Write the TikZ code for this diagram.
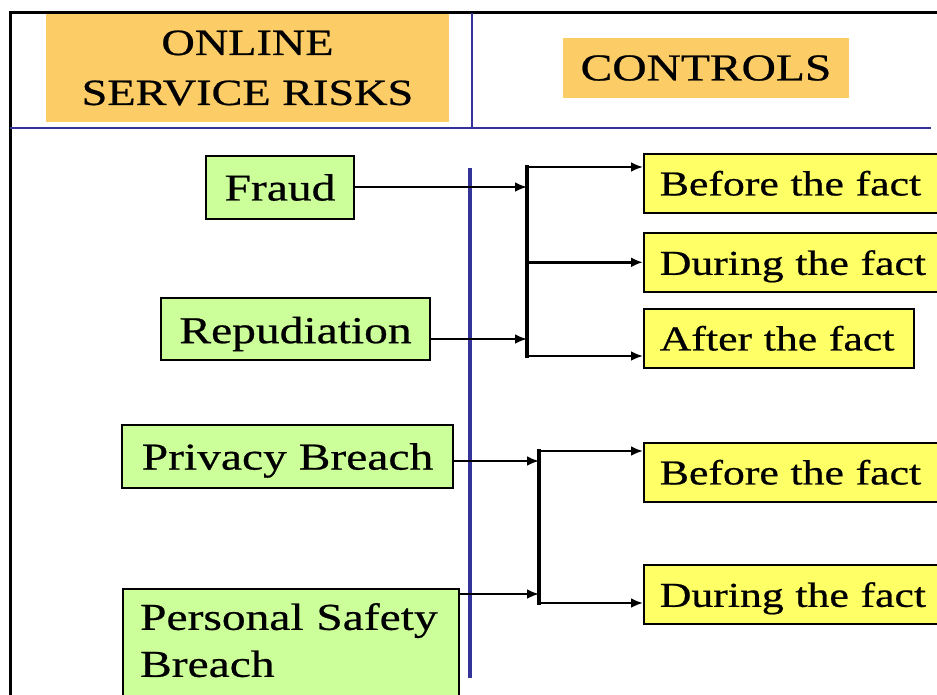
\documentclass[tikz,border=0pt]{standalone}
\usepackage{fontspec}
\setmainfont{Liberation Serif}[FakeStretch=1.25,FakeBold=0.6]
\usetikzlibrary{arrows.meta}
\definecolor{headorange}{HTML}{FCCC66}
\definecolor{riskgreen}{HTML}{CCFF99}
\definecolor{ctrlyellow}{HTML}{FFFF66}
\definecolor{rulerblue}{HTML}{333399}
\newcommand{\lowertext}[2]{\raisebox{-#1}[\height][\depth]{#2}}

\begin{document}
\begin{tikzpicture}[x=1pt,y=-1pt,
  headbox/.style={fill=headorange, inner sep=0pt, align=center, font=\fontsize{37}{50}\selectfont},
  riskbox/.style={draw, line width=2.2pt, fill=riskgreen, inner sep=0pt, font=\fontsize{38}{47}\selectfont},
  ctrlbox/.style={draw, line width=1.6pt, fill=ctrlyellow, anchor=north west, inner xsep=16pt, inner ysep=0pt,
    minimum height=59pt, align=left, text width=#1, font=\fontsize{35}{40}\selectfont},
  arr/.style={line width=2.8pt, -{Latex[length=12pt,width=10pt]}},
  bar/.style={line width=4.4pt, line cap=rect}]
	\useasboundingbox (0,0) rectangle (937,695);
	\clip (0,0) rectangle (937,695);

	% frame and rulers
	\draw[line width=3pt] (10,695) -- (10,13) -- (937,13);
	\draw[rulerblue, line width=2.2pt] (472,13) -- (472,128);
	\draw[rulerblue, line width=2.2pt] (10,128) -- (931,128);
	\draw[rulerblue, line width=3.2pt] (470,168) -- (470,678);

	% headers
	\node[headbox, minimum width=403pt, minimum height=108pt] (risks) at (247.5,68) {ONLINE\\SERVICE RISKS};
	\node[headbox, minimum width=286pt, minimum height=60pt, font=\fontsize{38}{50}\selectfont] (controls) at (706,68) {CONTROLS};

	% risks
	\node[riskbox, minimum width=148pt, minimum height=63pt] (fraud) at (280,187.5) {Fraud};
	\node[riskbox, minimum width=269pt, minimum height=62pt] (repu) at (295.5,329) {\lowertext{5pt}{Repudiation}};
	\node[riskbox, minimum width=331pt, minimum height=63pt] (priv) at (287.5,456.5) {\lowertext{4pt}{Privacy Breach}};
	\node[riskbox, anchor=north west, inner xsep=17pt, inner ysep=14pt, text width=302pt, align=left] (pers)
	  at (122,588) {Personal Safety\\Breach\rule[-80pt]{0pt}{1pt}};

	% controls
	\node[ctrlbox=262pt] (bf1) at (643,153) {Before the fact};
	\node[ctrlbox=300pt] (df1) at (643,232) {\lowertext{4pt}{During the fact}};
	\node[ctrlbox=238pt] (af1) at (643,308) {After the fact};
	\node[ctrlbox=262pt] (bf2) at (643,442) {Before the fact};
	\node[ctrlbox=300pt] (df2) at (643,564) {\lowertext{4pt}{During the fact}};

	% upper bracket
	\coordinate (b1t) at (527,167);
	\coordinate (b1b) at (527,356);
	\coordinate (f1) at (527,187);
	\coordinate (r1) at (527,339);
	\draw[bar] (b1t) -- (b1b);
	\draw[arr] (fraud.east |- f1) -- (f1);
	\draw[arr] (repu.east |- r1) -- (r1);
	\draw[arr] (b1t) -- (b1t -| bf1.west);
	\draw[arr] (b1t |- df1.west) -- (df1.west);
	\draw[arr] (b1b) -- (b1b -| af1.west);

	% lower bracket
	\coordinate (b2t) at (539,451);
	\coordinate (b2b) at (539,603);
	\coordinate (p1) at (539,461);
	\coordinate (s1) at (539,594);
	\draw[bar] (b2t) -- (b2b);
	\draw[arr] (priv.east |- p1) -- (p1);
	\draw[arr] (pers.east |- s1) -- (s1);
	\draw[arr] (b2t) -- (b2t -| bf2.west);
	\draw[arr] (b2b) -- (b2b -| df2.west);

\end{tikzpicture}
\end{document}
